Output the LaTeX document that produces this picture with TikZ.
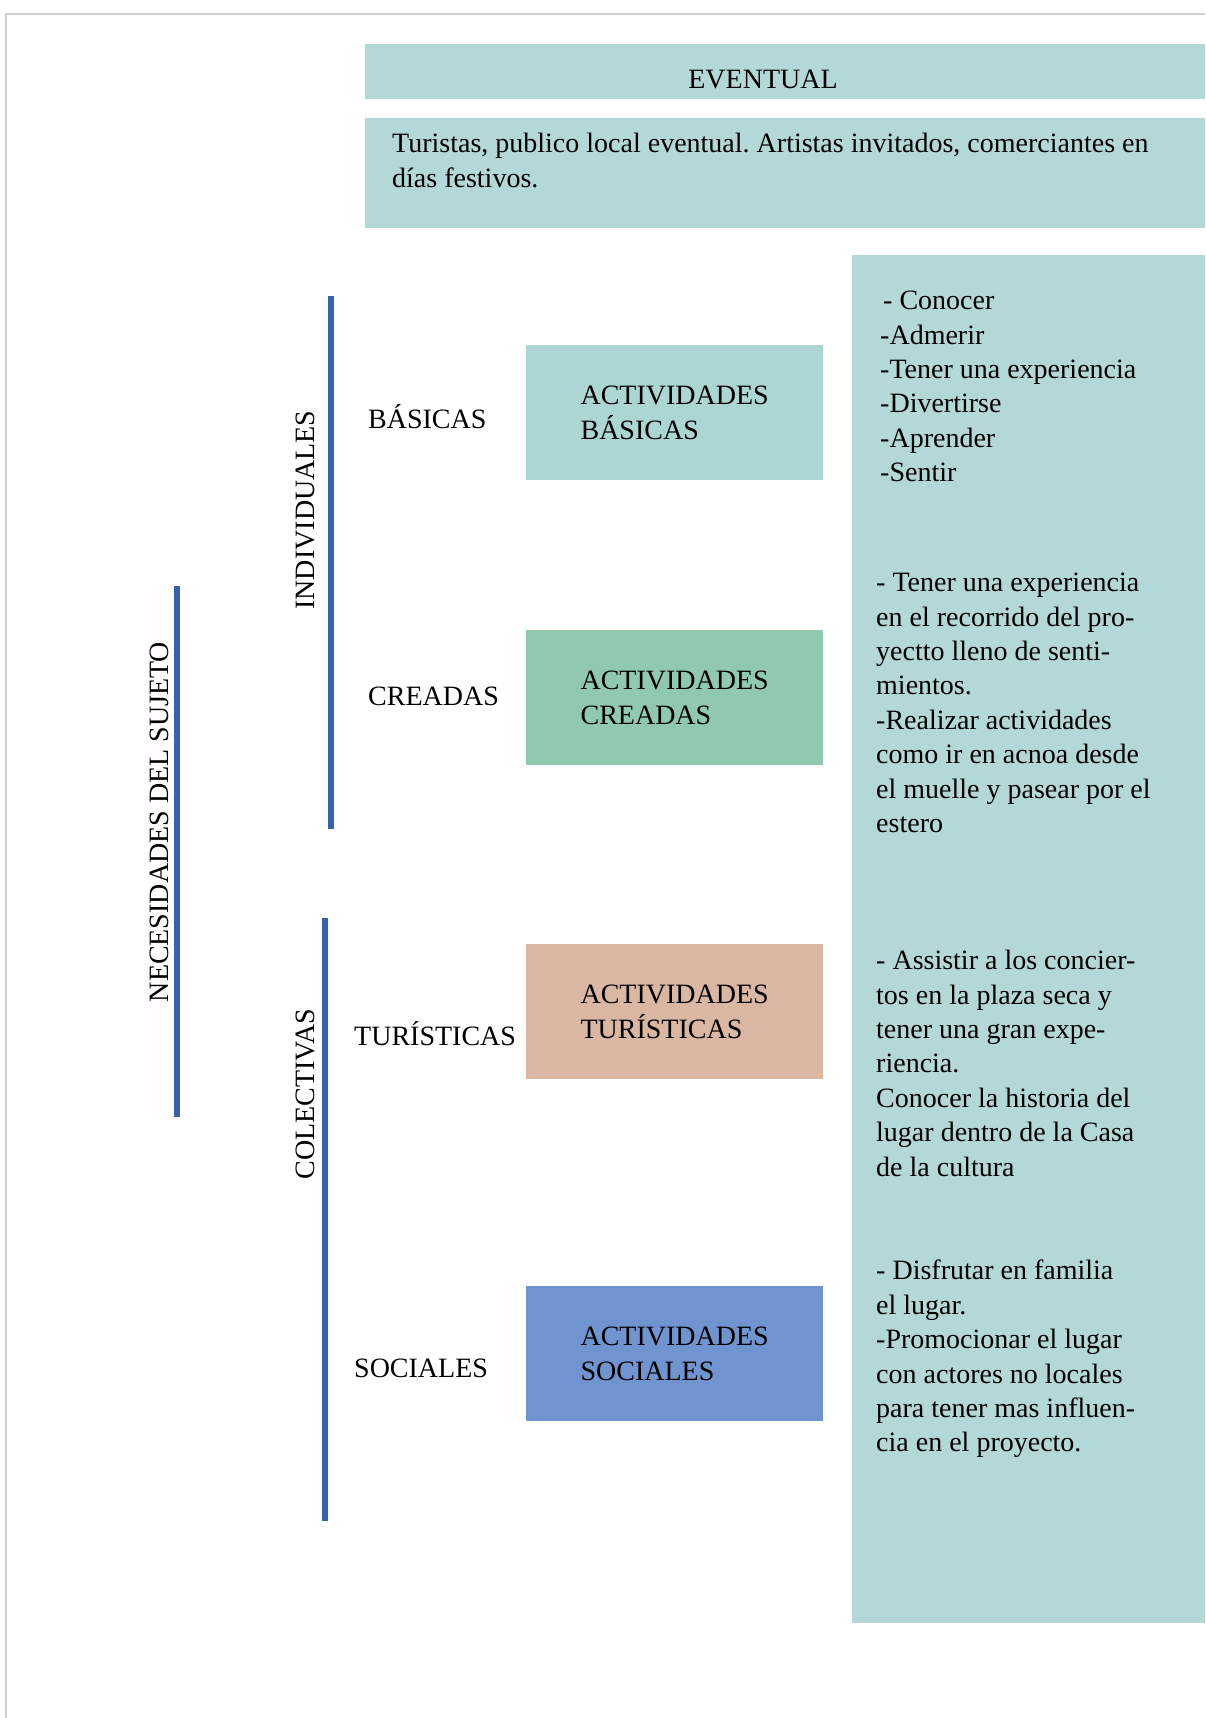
\documentclass[tikz,border=0pt]{standalone}
\usepackage{fontspec}
\setmainfont{Liberation Serif}
\frenchspacing
\definecolor{tealc}{HTML}{B4D8D7}
\definecolor{basc}{HTML}{ABD6D4}
\definecolor{creac}{HTML}{90C9B0}
\definecolor{turc}{HTML}{D9B7A2}
\definecolor{socc}{HTML}{7094CF}
\definecolor{barblue}{HTML}{3862AC}
\definecolor{framec}{HTML}{CFCFCF}
\newcommand{\txtfont}{\fontsize{28}{34.4}\selectfont}
\begin{document}
\begin{tikzpicture}[x=1pt,y=-1pt,
  panel/.style={fill=tealc,draw=none},
  actbox/.style={minimum width=297pt,minimum height=135pt,inner sep=0pt,align=left,font=\txtfont,anchor=north west},
  bar/.style={draw=barblue,line width=6pt},
  lbl/.style={anchor=west,inner sep=0pt,font=\txtfont},
  vlbl/.style={inner sep=0pt,font=\txtfont,rotate=90},
  body/.style={anchor=north west,align=left,inner sep=0pt,font=\txtfont}]
\useasboundingbox (0,0) rectangle (1205,1718);
\fill[white] (0,0) rectangle (1205,1718);
% frame
\draw[framec,line width=2pt] (6,1718) -- (6,14) -- (1205,14);
% top panels
\fill[panel] (365,44) rectangle (1205,99);
\node[font=\txtfont,inner sep=0pt] (ev) at (763,79) {EVENTUAL};
\fill[panel] (365,118) rectangle (1205,228);
\node[body,font=\fontsize{28}{35}\selectfont] (tur) at (392,133) {Turistas, publico local eventual. Artistas invitados, comerciantes en\\días festivos.};
% right column
\fill[panel] (852,255) rectangle (1205,1623);
\node[body] (b1) at (880,291) {\hspace{3pt}- Conocer\\-Admerir\\-Tener una experiencia\\-Divertirse\\-Aprender\\-Sentir};
\node[body] (b2) at (876,573) {- Tener una experiencia\\en el recorrido del pro-\\yectto lleno de senti-\\mientos.\\-Realizar actividades\\como ir en acnoa desde\\el muelle y pasear por el\\estero};
\node[body] (b3) at (876,950) {- Assistir a los concier-\\tos en la plaza seca y\\tener una gran expe-\\riencia.\\Conocer la historia del\\lugar dentro de la Casa\\de la cultura};
\node[body] (b4) at (876,1260) {- Disfrutar en familia\\el lugar.\\-Promocionar el lugar\\con actores no locales\\para tener mas influen-\\cia en el proyecto.};
% activity boxes
\node[actbox,fill=basc] (ab) at (526,345) {ACTIVIDADES\\BÁSICAS};
\node[actbox,fill=creac] (ac) at (526,630) {ACTIVIDADES\\CREADAS};
\node[actbox,fill=turc] (at) at (526,944) {ACTIVIDADES\\TURÍSTICAS};
\node[actbox,fill=socc] (as) at (526,1286) {ACTIVIDADES\\SOCIALES};
% labels
\node[lbl] (lb) at (368,417) {BÁSICAS};
\node[lbl] (lc) at (368,696) {CREADAS};
\node[lbl] (lt) at (354,1034) {TURÍSTICAS};
\node[lbl] (ls) at (354,1368) {SOCIALES};
% bars
\draw[bar] (331,296) -- (331,829);
\draw[bar] (325,918) -- (325,1521);
\draw[bar] (177,586) -- (177,1117);
% rotated labels
\node[vlbl] (ind) at (305,510) {INDIVIDUALES};
\node[vlbl] (col) at (305,1094) {COLECTIVAS};
\node[vlbl] (nec) at (159,822) {NECESIDADES DEL SUJETO};
\end{tikzpicture}
\end{document}
